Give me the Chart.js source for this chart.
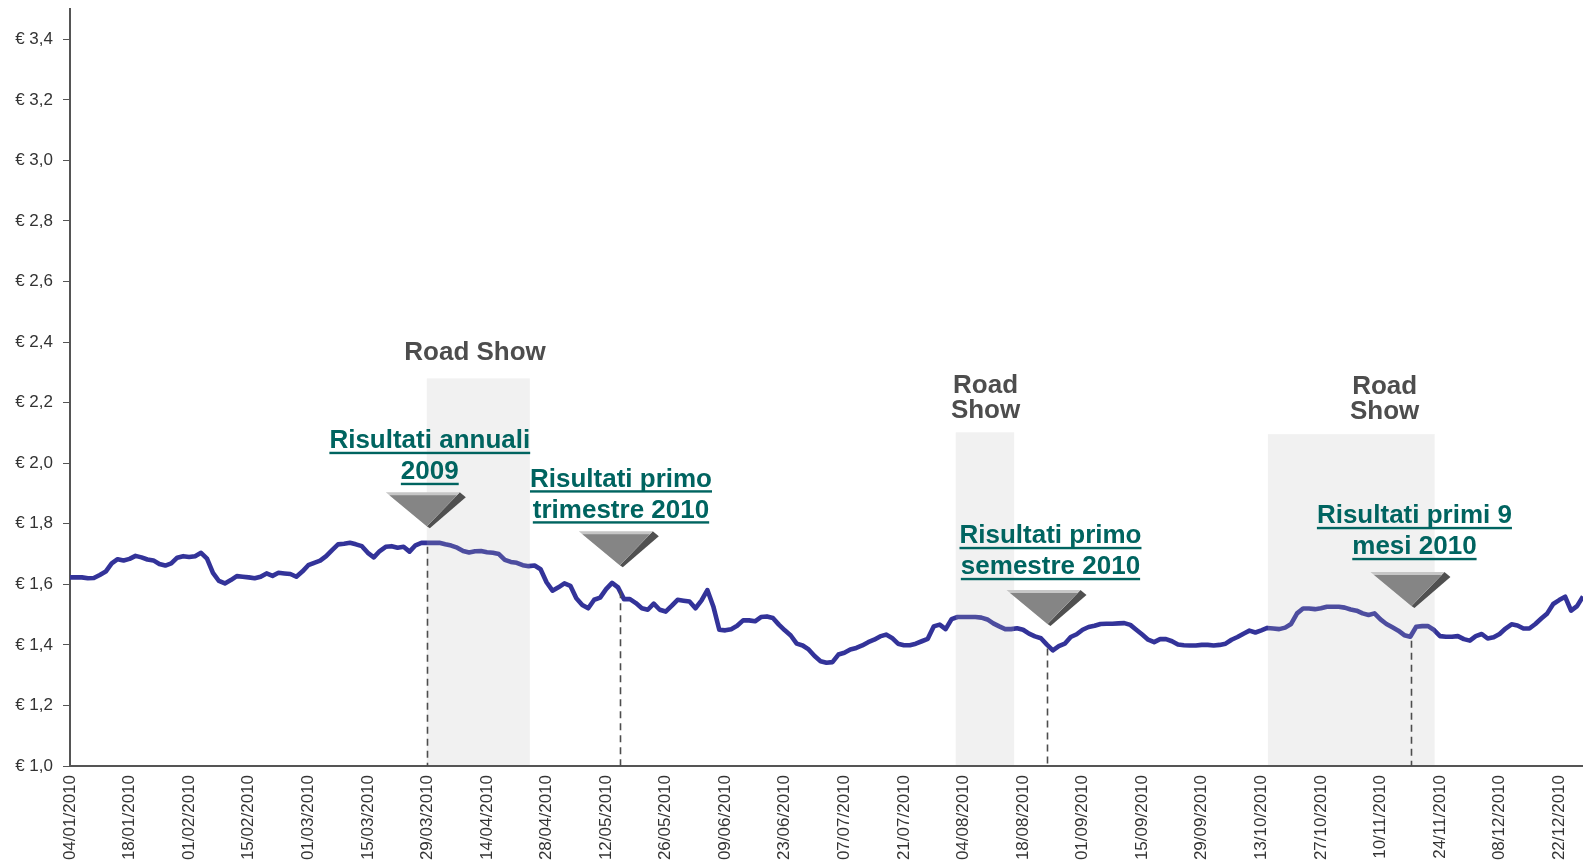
<!DOCTYPE html>
<html>
<head>
<meta charset="utf-8">
<script src="https://cdn.jsdelivr.net/npm/chart.js@4"></script>
<style>
  body { margin: 0; background: #fff; overflow: hidden; }
  #wrap { width: 1583px; height: 866px; position: relative; }
</style>
</head>
<body>
<div id="wrap"><canvas id="priceChart"></canvas></div>
<script>
// trading days 2010 (Borsa Italiana closed on these weekdays)
const holidays = ['2010-04-02', '2010-04-05', '2010-12-24'];
const firstDay = '2010-01-04';
const lastDay = '2010-12-29';

// closing price, one value per trading day
const prices = [
  1.623, 1.623, 1.623, 1.620, 1.621, 1.631, 1.642, 1.669, 1.683, 1.679,
  1.684, 1.694, 1.689, 1.682, 1.679, 1.667, 1.662, 1.669, 1.688, 1.693,
  1.690, 1.693, 1.704, 1.685, 1.638, 1.611, 1.603, 1.614, 1.627, 1.625,
  1.623, 1.620, 1.625, 1.636, 1.628, 1.638, 1.636, 1.634, 1.625, 1.642,
  1.663, 1.671, 1.678, 1.693, 1.713, 1.732, 1.734, 1.737, 1.732, 1.726,
  1.704, 1.689, 1.710, 1.724, 1.726, 1.721, 1.724, 1.708, 1.729, 1.737,
  1.737, 1.737, 1.737, 1.732, 1.728, 1.721, 1.710, 1.705, 1.709, 1.710,
  1.706, 1.704, 1.700, 1.681, 1.674, 1.671, 1.663, 1.660, 1.662, 1.650,
  1.607, 1.579, 1.590, 1.603, 1.595, 1.554, 1.532, 1.521, 1.549, 1.556,
  1.584, 1.605, 1.590, 1.551, 1.551, 1.538, 1.521, 1.516, 1.536, 1.516,
  1.510, 1.529, 1.549, 1.546, 1.543, 1.521, 1.546, 1.581, 1.527, 1.450,
  1.448, 1.452, 1.463, 1.481, 1.481, 1.478, 1.492, 1.494, 1.489, 1.467,
  1.448, 1.431, 1.404, 1.398, 1.385, 1.363, 1.346, 1.341, 1.343, 1.368,
  1.374, 1.385, 1.390, 1.398, 1.409, 1.417, 1.428, 1.434, 1.423, 1.404,
  1.399, 1.399, 1.404, 1.412, 1.420, 1.461, 1.467, 1.452, 1.485, 1.492,
  1.492, 1.492, 1.492, 1.490, 1.484, 1.471, 1.461, 1.452, 1.452, 1.455,
  1.450, 1.437, 1.428, 1.422, 1.401, 1.382, 1.396, 1.404, 1.426, 1.435,
  1.450, 1.459, 1.463, 1.469, 1.470, 1.470, 1.471, 1.472, 1.466, 1.450,
  1.434, 1.417, 1.409, 1.419, 1.419, 1.412, 1.401, 1.399, 1.398, 1.398,
  1.400, 1.400, 1.398, 1.400, 1.404, 1.417, 1.426, 1.437, 1.447, 1.441,
  1.448, 1.456, 1.454, 1.452, 1.457, 1.469, 1.504, 1.520, 1.520, 1.518,
  1.521, 1.526, 1.526, 1.526, 1.523, 1.517, 1.513, 1.504, 1.499, 1.504,
  1.484, 1.469, 1.458, 1.447, 1.432, 1.427, 1.460, 1.462, 1.462, 1.449,
  1.429, 1.427, 1.427, 1.429, 1.419, 1.414, 1.429, 1.436, 1.421, 1.425,
  1.436, 1.454, 1.468, 1.464, 1.454, 1.454, 1.469, 1.487, 1.504, 1.535,
  1.548, 1.559, 1.513, 1.528, 1.560
];

// a date label is shown every 10 trading days
const labelEvery = 10;

// road show periods (trading day index from/to) and their captions
const roadShowFrom = [59.9, 148.7, 201.1];
const roadShowTo = [77.2, 158.5, 229.1];
const roadShowText = [['Road Show'], ['Road', 'Show'], ['Road', 'Show']];

// results announcements (trading day index)
const eventDay = [59.9, 92.3, 164.1, 225.2];
const eventText = [
  ['Risultati annuali', '2009'],
  ['Risultati primo', 'trimestre 2010'],
  ['Risultati primo', 'semestre 2010'],
  ['Risultati primi 9', 'mesi 2010']
];

// build trading day labels
function pad(n) { return String(n).padStart(2, '0'); }
const days = [];
for (let d = new Date(firstDay + 'T12:00:00Z'); d <= new Date(lastDay + 'T12:00:00Z'); d.setUTCDate(d.getUTCDate() + 1)) {
  const wd = d.getUTCDay();
  const iso = d.toISOString().slice(0, 10);
  if (wd === 0 || wd === 6 || holidays.includes(iso)) continue;
  days.push(pad(d.getUTCDate()) + '/' + pad(d.getUTCMonth() + 1) + '/' + d.getUTCFullYear());
}

const FONT = "'Liberation Sans', Arial, sans-serif";

// placement of the drawn notes, in axis units
const roadShowLayout = [
  { top: 2.28, at: 68.0, base: 2.34 },
  { top: 2.102, at: 153.7, base: 2.233 },
  { top: 2.096, at: 220.7, base: 2.227 }
];
const eventLayout = [
  { tip: 1.792, at: 60.4, base: 2.049 },
  { tip: 1.663, at: 92.5, base: 1.922 },
  { tip: 1.469, at: 164.6, base: 1.735 },
  { tip: 1.528, at: 225.7, base: 1.801 }
];

const notes = {
  id: 'notes',
  afterDatasetsDraw(chart) {
    const { ctx, chartArea: area, scales: { x, y } } = chart;
    ctx.save();

    // road show bands, laid over the line
    ctx.fillStyle = 'rgba(184,184,184,0.2)';
    roadShowFrom.forEach((from, i) => {
      const x0 = x.getPixelForValue(from);
      const x1 = x.getPixelForValue(roadShowTo[i]);
      const y0 = y.getPixelForValue(roadShowLayout[i].top);
      ctx.fillRect(x0, y0, x1 - x0, area.bottom - 1 - y0);
    });

    ctx.font = 'bold 26px ' + FONT;
    ctx.textAlign = 'center';
    ctx.textBaseline = 'alphabetic';
    ctx.fillStyle = '#4d4d4d';
    roadShowText.forEach((lines, i) => {
      const cx = x.getPixelForValue(roadShowLayout[i].at);
      const by = y.getPixelForValue(roadShowLayout[i].base);
      lines.forEach((t, k) => ctx.fillText(t, cx, by + k * 25));
    });

    // dashed drop lines
    ctx.strokeStyle = '#4d4d4d';
    ctx.lineWidth = 1.6;
    ctx.setLineDash([7, 5]);
    eventDay.forEach(d => {
      const px = Math.round(x.getPixelForValue(d)) + 0.5;
      const top = y.getPixelForValue(prices[Math.round(d)]);
      ctx.beginPath();
      ctx.moveTo(px, top + 4);
      ctx.lineTo(px, area.bottom);
      ctx.stroke();
    });
    ctx.setLineDash([]);

    // markers
    eventDay.forEach((d, i) => {
      const tx = x.getPixelForValue(d);
      const ty = y.getPixelForValue(eventLayout[i].tip);
      ctx.fillStyle = '#505050';
      ctx.beginPath();
      ctx.moveTo(tx + 33, ty - 34);
      ctx.lineTo(tx + 39, ty - 29);
      ctx.lineTo(tx + 3, ty + 2);
      ctx.lineTo(tx, ty);
      ctx.closePath();
      ctx.fill();
      ctx.fillStyle = '#c6c6c6';
      ctx.beginPath();
      ctx.moveTo(tx - 41, ty - 34);
      ctx.lineTo(tx + 33, ty - 34);
      ctx.lineTo(tx, ty);
      ctx.closePath();
      ctx.fill();
      ctx.fillStyle = '#858585';
      ctx.beginPath();
      ctx.moveTo(tx - 37.4, ty - 31);
      ctx.lineTo(tx + 30.1, ty - 31);
      ctx.lineTo(tx, ty);
      ctx.closePath();
      ctx.fill();
    });

    // underlined captions
    ctx.fillStyle = '#006460';
    eventText.forEach((lines, i) => {
      const cx = x.getPixelForValue(eventLayout[i].at);
      const by = y.getPixelForValue(eventLayout[i].base);
      lines.forEach((t, k) => {
        const b = by + k * 31;
        ctx.fillText(t, cx, b);
        const w = ctx.measureText(t).width;
        ctx.fillRect(cx - w / 2, b + 3.4, w, 2.4);
      });
    });

    ctx.restore();
  }
};

const ctx = document.getElementById('priceChart').getContext('2d');
const priceChart = new Chart(ctx, {
  type: 'line',
  data: {
    labels: days,
    datasets: [{
      data: prices,
      borderColor: '#333399',
      borderWidth: 4.6,
      pointRadius: 0,
      tension: 0,
      borderJoinStyle: 'round',
      fill: false
    }]
  },
  options: {
    responsive: true,
    maintainAspectRatio: false,
    animation: false,
    layout: { padding: { top: 9, right: 0, left: 0, bottom: 0 } },
    plugins: {
      legend: { display: false },
      tooltip: { enabled: false }
    },
    scales: {
      x: {
        offset: false,
        grid: { display: false, drawTicks: false },
        border: { display: true, color: '#555', width: 2 },
        ticks: {
          autoSkip: false,
          minRotation: 90,
          maxRotation: 90,
          padding: 9,
          color: '#333',
          font: { family: FONT, size: 17 },
          callback(val, i) {
            return i % labelEvery === 0 ? this.getLabelForValue(val) : '';
          }
        },
        afterFit(s) {
          s.height = 100;
          s.paddingLeft = 0;
          s.paddingRight = 0;
        }
      },
      y: {
        min: 1.0,
        max: 3.5,
        grid: { drawOnChartArea: false, drawTicks: true, tickLength: 7, color: '#555' },
        border: { display: true, color: '#555', width: 2 },
        ticks: {
          stepSize: 0.2,
          includeBounds: false,
          padding: 10,
          color: '#333',
          font: { family: FONT, size: 17 },
          callback: v => '€ ' + v.toFixed(1).replace('.', ',')
        },
        afterFit(s) {
          s.width = 70;
          s.paddingTop = 0;
          s.paddingBottom = 0;
        }
      }
    }
  },
  plugins: [notes]
});
</script>
</body>
</html>
